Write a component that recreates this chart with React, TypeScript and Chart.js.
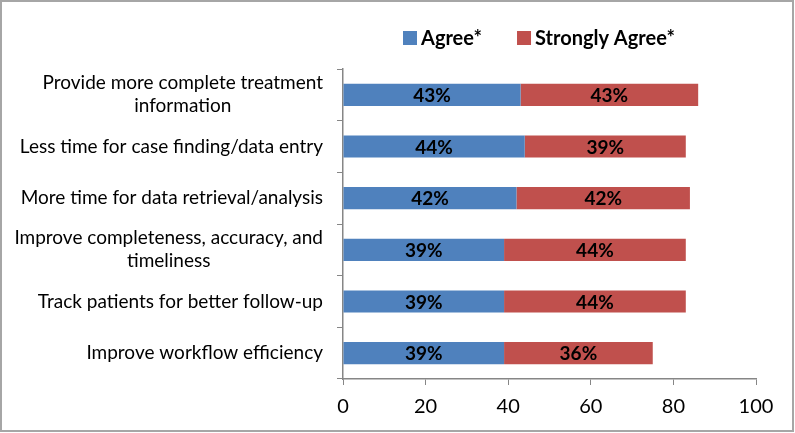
import React, { useEffect, useRef } from "react";
import { Chart, registerables } from "chart.js";

Chart.register(...registerables);

const categories: (string | string[])[] = [
  ["Provide more complete treatment", "information"],
  "Less time for case finding/data entry",
  "More time for data retrieval/analysis",
  ["Improve completeness, accuracy, and", "timeliness"],
  "Track patients for better follow-up",
  "Improve workflow efficiency",
];
const agree = [43, 44, 42, 39, 39, 39];
const stronglyAgree = [43, 39, 42, 44, 44, 36];
const seriesNames = ["Agree*", "Strongly Agree*"];
const xTicks = [0, 20, 40, 60, 80, 100];

const FONT = "Lato, 'Open Sans', sans-serif";
const BLUE = "#4F81BD";
const RED = "#C0504D";
const AXIS = "#868686";

const dataLabelPlugin = {
  id: "dataLabels",
  afterDatasetsDraw(chart: any) {
    const ctx = chart.ctx;
    ctx.save();
    ctx.font = `bold 19px ${FONT}`;
    ctx.fillStyle = "#000";
    ctx.textAlign = "center";
    ctx.textBaseline = "middle";
    chart.data.datasets.forEach((ds: any, i: number) => {
      const meta = chart.getDatasetMeta(i);
      meta.data.forEach((bar: any, j: number) => {
        const { x, base, y } = bar.getProps(["x", "base", "y"], true);
        ctx.fillText(`${ds.data[j]}%`, (x + base) / 2, y + 1);
      });
    });
    ctx.restore();
  },
};

const yLabelPlugin = {
  id: "yLabels",
  afterDraw(chart: any) {
    const ctx = chart.ctx;
    const scale = chart.scales.y;
    ctx.save();
    ctx.font = `19px ${FONT}`;
    ctx.fillStyle = "#000";
    ctx.textAlign = "center";
    ctx.textBaseline = "middle";
    const right = scale.right - 20;
    const lh = 23;
    (chart.data.labels as any[]).forEach((label: any, i: number) => {
      const lines: string[] = Array.isArray(label) ? label : [label];
      const maxW = Math.max(...lines.map((l) => ctx.measureText(l).width));
      const cx = right - maxW / 2;
      const py = scale.getPixelForValue(i);
      lines.forEach((l, k) => {
        ctx.fillText(l, cx, py + (k - (lines.length - 1) / 2) * lh);
      });
    });
    ctx.restore();
  },
};

const legendPlugin = {
  id: "customLegend",
  afterDraw(chart: any) {
    const ctx = chart.ctx;
    ctx.save();
    ctx.font = `bold 20px ${FONT}`;
    ctx.textBaseline = "middle";
    const box = 14;
    const gap = 4;
    const spacing = 35;
    let x = 401;
    const cy = 36;
    chart.data.datasets.forEach((ds: any) => {
      const w = box + gap + ctx.measureText(ds.label).width;
      ctx.fillStyle = ds.backgroundColor;
      ctx.fillRect(x, cy - box / 2, box, box);
      ctx.fillStyle = "#000";
      ctx.fillText(ds.label, x + box + gap, cy + 1);
      x += w + spacing;
    });
    ctx.restore();
  },
};

export default function App() {
  const ref = useRef<HTMLCanvasElement>(null);
  useEffect(() => {
    document.body.style.margin = "0";
    const chart = new Chart(ref.current!, {
      type: "bar",
      data: {
        labels: categories,
        datasets: [
          { label: seriesNames[0], data: agree, backgroundColor: BLUE, barPercentage: 0.43, categoryPercentage: 1 },
          { label: seriesNames[1], data: stronglyAgree, backgroundColor: RED, barPercentage: 0.43, categoryPercentage: 1 },
        ],
      },
      options: {
        indexAxis: "y",
        animation: false,
        responsive: false,
        maintainAspectRatio: false,
        layout: { padding: { top: 67, right: 36, bottom: 0, left: 0 } },
        plugins: { legend: { display: false }, tooltip: { enabled: false } },
        scales: {
          x: {
            stacked: true,
            min: 0,
            max: 100,
            afterBuildTicks: (s: any) => {
              s.ticks = xTicks.map((v) => ({ value: v }));
            },
            afterFit: (s: any) => {
              s.height = 51;
            },
            grid: { drawOnChartArea: false, drawTicks: true, tickLength: 6, color: AXIS },
            border: { color: AXIS, width: 1.5 },
            ticks: { color: "#000", font: { family: FONT, size: 20 }, padding: 10, maxRotation: 0 },
          },
          y: {
            stacked: true,
            afterFit: (s: any) => {
              s.width = 341;
            },
            grid: { drawOnChartArea: false, drawTicks: true, tickLength: 6, color: AXIS, offset: true },
            border: { color: AXIS, width: 1.5 },
            ticks: { display: false },
          },
        },
      },
      plugins: [dataLabelPlugin, yLabelPlugin, legendPlugin],
    });
    return () => chart.destroy();
  }, []);
  return (
    <div
      style={{
        width: 794,
        height: 432,
        boxSizing: "border-box",
        border: "2px solid #a6a6a6",
        background: "#fff",
      }}
    >
      <canvas ref={ref} width={790} height={428} style={{ display: "block" }} />
    </div>
  );
}
